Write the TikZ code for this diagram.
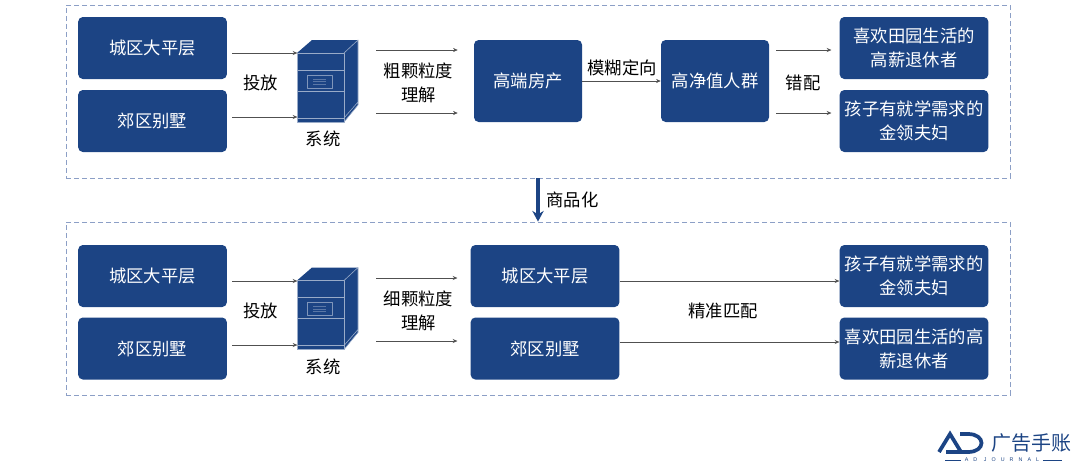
\documentclass[tikz,border=0pt]{standalone}
\usepackage{fontspec}
\setmainfont{Noto Sans CJK SC}
\newfontfamily\logofont[LetterSpace=95]{Liberation Sans}
\usetikzlibrary{arrows.meta}
\definecolor{boxblue}{HTML}{1C4484}
\definecolor{dashblue}{HTML}{8C9FC6}
\definecolor{linegray}{HTML}{505050}
\tikzset{
	bluebox/.style={fill=boxblue,text=white,rounded corners=3.5pt,inner sep=0pt,align=center,font=\fontsize{13}{18}\selectfont},
	widebox/.style={bluebox,minimum width=111.5pt,minimum height=46.5pt},
	midbox/.style={bluebox,minimum width=81pt,minimum height=61.5pt},
	label/.style={inner sep=0pt,align=center,text=black,font=\fontsize{13}{18}\selectfont},
	frame/.style={draw=dashblue,dash pattern=on 4pt off 2pt,line width=0.6pt,minimum width=708pt,minimum height=129.75pt,inner sep=0pt},
	conn/.style={draw=linegray,line width=0.4pt,-{Stealth[length=3.5pt,width=3pt]}},
	srv/.style={draw=white!55!boxblue,line width=0.45pt,line join=round},
}
\newcommand{\servericon}[1]{
	\begin{scope}[shift={(#1)}]
	\fill[boxblue] (297,53) -- (312,40) -- (358,40) -- (358,105) -- (344,122) -- (297,122) -- cycle;
	\draw[srv] (297,53) rectangle (344,122);
	\draw[srv] (297,70) -- (344,70) (297,91) -- (344,91) (297,118) -- (344,118);
	\draw[srv] (344,53) -- (358,40) -- (358,105) -- (344,122) (344,118) -- (358,102);
	\draw[srv,draw opacity=0.8] (307,75) rectangle (332,88);
	\draw[srv,draw opacity=0.5] (313,79) -- (326,79) (313,81.5) -- (326,81.5) (313,84) -- (326,84);
	\end{scope}
}
\begin{document}
\begin{tikzpicture}[x=0.75pt,y=-0.75pt]
	\useasboundingbox (0,0) rectangle (1080,468);

	% upper part
	\node[frame] (upper) at (538,91.5) {};
	\node[widebox] (flat) at (152.5,48) {城区大平层};
	\node[widebox] (villa) at (152.5,121) {郊区别墅};
	\servericon{0,0}
	\node[minimum width=35pt,minimum height=60pt,inner sep=0pt] (sys) at (325,82) {};
	\node[label] (sysname) at (323,139) {系统};
	\node[label] (putin) at (260.5,83) {投放};
	\node[label] (coarse) at (418.5,83) {粗颗粒度\\理解};
	\node[midbox] (estate) at (528,81) {高端房产};
	\node[midbox] (rich) at (715,81) {高净值人群};
	\node[label] (fuzzy) at (622,67.5) {模糊定向};
	\node[label] (wrong) at (803,83) {错配};
	\node[widebox] (retired) at (914,48) {喜欢田园生活的\\高薪退休者};
	\node[widebox] (parents) at (914,121) {孩子有就学需求的\\金领夫妇};

	\coordinate (coarsea) at (376,50);
	\coordinate (coarseb) at (376,113);
	\draw[conn] (flat.east |- 0,53) ++(3.75pt,0) -- ([xshift=-3pt]sys.west |- 0,53);
	\draw[conn] (villa.east |- 0,117) ++(3.75pt,0) -- ([xshift=-3pt]sys.west |- 0,117);
	\draw[conn] (coarsea) -- ([xshift=-12pt]estate.west |- coarsea);
	\draw[conn] (coarseb) -- ([xshift=-12pt]estate.west |- coarseb);
	\draw[conn] (estate.east) -- (rich.west);
	\draw[conn] ([xshift=5.25pt]rich.east |- 0,50) -- ([xshift=-6pt]retired.west |- 0,50);
	\draw[conn] ([xshift=5.25pt]rich.east |- 0,113) -- ([xshift=-6pt]parents.west |- 0,113);

	% arrow between the parts
	\node[label] (goods) at (572.5,199.5) {商品化};
	\node[frame] (lower) at (538,308.5) {};
	\draw[boxblue,line width=3pt,-{Stealth[length=8pt,width=8.5pt]}] (upper.south -| 538,0) -- (lower.north -| 538,0);

	% lower part
	\node[widebox] (flatb) at (152.5,276) {城区大平层};
	\node[widebox] (villab) at (152.5,348.5) {郊区别墅};
	\servericon{0,227.5}
	\node[minimum width=35pt,minimum height=60pt,inner sep=0pt] (sysb) at (325,309.5) {};
	\node[label] (sysnameb) at (323,367) {系统};
	\node[label] (putinb) at (260.5,311) {投放};
	\node[label] (fine) at (418.5,311) {细颗粒度\\理解};
	\node[widebox] (flatc) at (545,276) {城区大平层};
	\node[widebox] (villac) at (545,348.5) {郊区别墅};
	\node[label] (match) at (723,310.5) {精准匹配};
	\node[widebox] (parentsb) at (914,276) {孩子有就学需求的\\金领夫妇};
	\node[widebox] (retiredb) at (914,348.5) {喜欢田园生活的高\\薪退休者};

	\coordinate (finea) at (376,278);
	\coordinate (fineb) at (376,341);
	\draw[conn] (flatb.east |- 0,281) ++(3.75pt,0) -- ([xshift=-3pt]sysb.west |- 0,281);
	\draw[conn] (villab.east |- 0,345) ++(3.75pt,0) -- ([xshift=-3pt]sysb.west |- 0,345);
	\draw[conn] (finea) -- ([xshift=-9.75pt]flatc.west |- finea);
	\draw[conn] (fineb) -- ([xshift=-9.75pt]villac.west |- fineb);
	\draw[conn] (flatc.east |- 0,281) -- (parentsb.west |- 0,281);
	\draw[conn] (villac.east |- 0,342) -- (retiredb.west |- 0,342);

	% logo
	\draw[boxblue,line width=2.8pt,line join=miter] (939,452) -- (950,434) -- (961,452) -- (946,452);
	\draw[boxblue,line width=2.8pt] (960,434) -- (968,434) .. controls (986,434) and (986,452) .. (968,452) -- (961,452);
	\node[inner sep=0pt,text=boxblue,font=\fontsize{15}{18}\selectfont] (brand) at (1031,442.5) {广告手账};
	\node[inner sep=0pt,text=boxblue,font=\logofont\fontsize{4}{5}\selectfont] (brandsub) at (1002,460) {AD JOURNAL};
	\coordinate (ruleleft) at (945,460);
	\coordinate (ruleright) at (1062,460);
	\draw[boxblue,line width=0.5pt] (ruleleft) -- ([xshift=-2.5pt]brandsub.west);
	\draw[boxblue,line width=0.5pt] ([xshift=2.5pt]brandsub.east) -- (ruleright);
\end{tikzpicture}
\end{document}
